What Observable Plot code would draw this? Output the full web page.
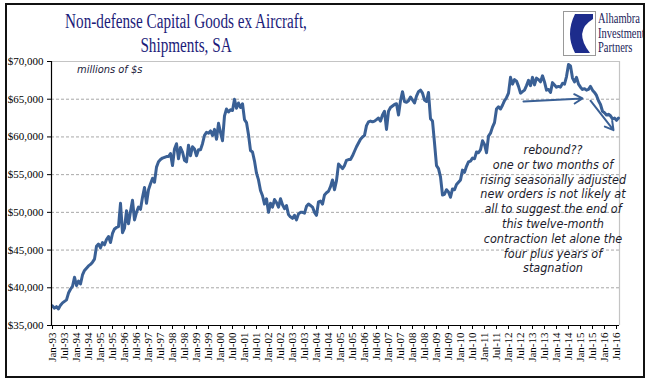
<!DOCTYPE html>
<html><head><meta charset="utf-8">
<script src="https://cdn.jsdelivr.net/npm/d3@7"></script>
<script src="https://cdn.jsdelivr.net/npm/@observablehq/plot@0.6"></script>
<style>
body{margin:0;background:#fff;}
#wrap{position:relative;width:650px;height:392px;overflow:hidden;background:#fff;}
#frame{position:absolute;left:5px;top:3px;width:636px;height:371px;border:2px solid #111;pointer-events:none;}
#chart{position:absolute;left:0;top:0;}
#chart svg{overflow:visible;}
.title{position:absolute;left:26px;width:320px;top:9px;font-family:"Liberation Serif","Times New Roman",serif;color:#1c1c7a;font-size:20px;line-height:24px;text-align:center;white-space:nowrap;transform:scaleX(0.76);transform-origin:160px 0;}
.units{position:absolute;left:77px;top:63px;font-family:"Liberation Sans Narrow","DejaVu Sans Condensed",sans-serif;font-style:italic;font-size:11px;color:#1c1c3c;}
.note{position:absolute;left:468px;width:170px;top:143px;font-family:"Liberation Sans Narrow","DejaVu Sans Condensed",sans-serif;font-style:italic;font-size:12.5px;line-height:14.8px;color:#1c1c2c;text-align:center;}
.logo{position:absolute;left:563px;top:11px;width:33px;height:45px;}
.logotext{position:absolute;left:598px;top:11px;font-family:"Liberation Serif","Times New Roman",serif;color:#1c1c5a;font-size:15px;line-height:14.5px;transform:scaleX(0.7);transform-origin:0 0;white-space:nowrap;}
</style>
</head><body>
<div id="wrap">
  <div id="chart"></div>
  <div class="title">Non-defense Capital Goods ex Aircraft,<br>Shipments, SA</div>
  <div class="units">millions of $s</div>
  <div class="note">rebound??<br>one or two months of<br>rising seasonally adjusted<br>new orders is not likely at<br>all to suggest the end of<br>this twelve-month<br>contraction let alone the<br>four plus years of<br>stagnation</div>
  <svg class="logo" viewBox="0 0 33 45">
    <rect x="0.5" y="0.5" width="32" height="44" fill="#fff" stroke="#999"/>
    <path d="M12,3 L30,3 L30,8 Q10,20 27,42 L12,42 Q2,23 12,3 Z" fill="#1d2c8c"/>
  </svg>
  <div class="logotext">Alhambra<br>Investment<br>Partners</div>
  <div id="frame"></div>
</div>
<script>
// Monthly shipments, $ millions, Jan-93 .. Aug-16
const values = [
37600,37300,37500,37200,37700,38000,38200,38400,39300,39800,40200,41400,
40300,40900,40500,41700,42300,42600,42900,43100,43400,43800,45500,45800,
45300,46000,45700,46400,46800,46000,47200,47800,48000,48100,51200,47300,
47900,50200,48500,50100,51600,49000,50000,50700,50400,52000,53300,51200,
53000,53800,54500,54000,56000,56700,57000,57200,57300,57400,57400,57800,
56200,58400,59100,57100,58600,58000,56900,56700,58900,57500,58700,58400,
57500,58300,58300,59100,60200,60600,60500,60800,60200,61000,59700,61800,
60600,59500,62800,63700,63300,63600,63500,65000,63800,64500,63900,64400,
62300,61900,60300,58200,58000,56800,55200,54300,52900,52200,51100,51800,
50000,51200,50700,51700,51300,50700,51800,51000,50500,50900,49700,49400,
49200,49600,49000,49800,50000,50000,49900,50800,51100,50900,50700,50000,
49600,51400,51500,51100,52300,52600,52800,53400,54300,53000,54200,56400,
56100,55800,56200,56900,57000,57000,57500,58100,58700,59200,59700,60000,
60200,61500,62000,62100,62000,62100,62300,62500,62100,62900,63400,61000,
63400,63900,64100,64300,64400,62900,64800,66000,64700,64600,64800,65300,
64900,64500,65400,66000,66200,65800,64900,64700,65900,62400,62100,59200,
56200,55800,54700,52300,52400,53000,52700,52000,53100,53000,53700,54000,
54300,55600,55300,56100,56700,56800,57200,57100,58000,57900,58300,59500,
59000,57900,60100,60500,61300,61900,63700,64000,63700,64200,64800,65200,
65800,67900,67000,67600,67400,66700,65800,66000,66200,66800,67500,66800,
67900,66900,67800,67600,67300,68100,67300,66200,66300,65900,67200,66900,
66600,66700,66600,67100,67000,68000,69600,69400,67800,67300,67900,67000,
66600,66300,66400,66200,66300,66700,66200,65900,65500,64800,64300,63400,
63200,62900,63000,62800,62400,62500,62200,62500
];
const tickLabels = [
"Jan-93","Jul-93","Jan-94","Jul-94","Jan-95","Jul-95","Jan-96","Jul-96",
"Jan-97","Jul-97","Jan-98","Jul-98","Jan-99","Jul-99","Jan-00","Jul-00",
"Jan-01","Jul-01","Jan-02","Jul-02","Jan-03","Jul-03","Jan-04","Jul-04",
"Jan-05","Jul-05","Jan-06","Jul-06","Jan-07","Jul-07","Jan-08","Jul-08",
"Jan-09","Jul-09","Jan-10","Jul-10","Jan-11","Jul-11","Jan-12","Jul-12",
"Jan-13","Jul-13","Jan-14","Jul-14","Jan-15","Jul-15","Jan-16","Jul-16"
];
const yTicks = [35000,40000,45000,50000,55000,60000,65000,70000];
const gridValues = [40000,45000,50000,55000,60000,65000];
// trend arrows: month index and value at each end
const trendArrows = [
  {x1: 235.5, y1: 64700, x2: 265, y2: 65100},
  {x1: 269, y1: 64800, x2: 280.5, y2: 60900}
];

const blue = "#3a6095";
const data = values.map((v, i) => ({i, v}));
const tickIdx = tickLabels.map((_, k) => k * 6);
const n = values.length;

const chart = Plot.plot({
  width: 650, height: 392,
  marginLeft: 51, marginRight: 31, marginTop: 61, marginBottom: 67,
  style: {fontFamily: "'Liberation Serif','Times New Roman',serif", fontSize: "11px", background: "transparent", color: "#000"},
  x: {type: "linear", domain: [-0.5, n - 0.5], axis: null},
  y: {domain: [35000, 70000], axis: null},
  marks: [
    Plot.ruleY(gridValues, {stroke: "#a8a8a8", strokeDasharray: "3,2", strokeWidth: 1}),
    Plot.ruleY([70000], {stroke: "#c4c4c4", strokeWidth: 1.2}),
    Plot.ruleX([n - 0.5], {stroke: "#c4c4c4", strokeWidth: 1.2}),
    Plot.lineY(data, {x: "i", y: "v", stroke: blue, strokeWidth: 3, strokeLinejoin: "round", strokeLinecap: "round"}),
    Plot.arrow(trendArrows, {x1: "x1", y1: "y1", x2: "x2", y2: "y2", stroke: blue, strokeWidth: 2, headLength: 7, bend: 0}),
    Plot.ruleX([-0.5], {stroke: "#000", strokeWidth: 1.2}),
    Plot.ruleY([35000], {stroke: "#000", strokeWidth: 1.2}),
    Plot.axisY({anchor: "left", ticks: yTicks, tickFormat: d3.format("$,"), tickSize: 4, tickPadding: 4, fontSize: 11, label: null}),
    Plot.axisX({anchor: "bottom", ticks: tickIdx, tickFormat: d => tickLabels[d / 6], tickRotate: -90, tickSize: 4, tickPadding: 3, fontSize: 11, label: null})
  ]
});
document.getElementById("chart").appendChild(chart);
</script>
</body></html>
